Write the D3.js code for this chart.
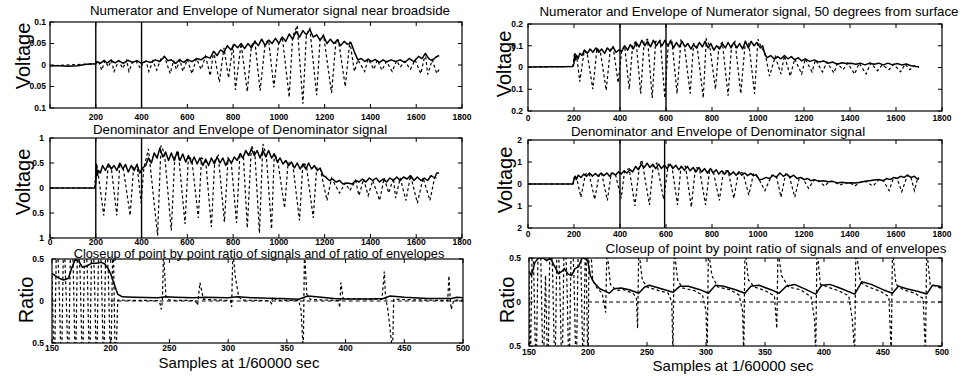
<!DOCTYPE html>
<html><head><meta charset="utf-8">
<script src="https://cdn.jsdelivr.net/npm/d3@7"></script>
<style>
body{margin:0;background:#fff}
svg{display:block}
text{font-family:"Liberation Sans",Arial,Helvetica,sans-serif;fill:#000}
</style>
</head><body>
<svg id="c" width="964" height="376"></svg>
<script>
// ---------------- DATA ----------------
const longXTicks = [0,200,400,600,800,1000,1200,1400,1600,1800];
const longXTickLabelsP1 = ["","200","400","600","800","1000","1200","1400","1600","1800"];
const longXTickLabels = ["0","200","400","600","800","1000","1200","1400","1600","1800"];
const shortXTicks = [150,200,250,300,350,400,450,500];
const shortXTickLabels = ["150","200","250","300","350","400","450","500"];

const p1YTicks = [0.1,0.05,0,-0.05,-0.1];
const p1YTickLabels = ["0.1","0.05","0","0.05","0.1"];
const p2YTicks = [0.2,0.1,0,-0.1,-0.2];
const p2YTickLabels = ["0.2","0.1","0","0.1","0.2"];
const p3YTicks = [1,0.5,0,-0.5,-1];
const p3YTickLabels = ["1","0.5","0","0.5","1"];
const p4YTicks = [2,1,0,-1,-2];
const p4YTickLabels = ["2","1","0","1","2"];
const ratioYTicks = [0.5,0,-0.5];
const ratioYTickLabels = ["0.5","0","0.5"];

const p1Markers = [200,400];
const p2Markers = [400,600];
const p3Markers = [200,400];
const p4Markers = [400,594];

// Numerator near broadside: envelope (solid) and signal (dashed)
const p1Env = [[0,-0.002],[40,-0.002],[80,-0.003],[120,-0.002],[160,0.002],[200,0.003],
[205,0.008],[220,0.004],[235,0.01],[250,0.005],[265,0.011],[285,0.005],[300,0.01],[320,0.004],[340,0.011],[360,0.006],[380,0.01],[400,0.004],[420,0.009],[440,0.006],[460,0.012],[480,0.008],[500,0.02],[515,0.01],[530,0.012],[550,0.004],[565,0.012],[585,0.006],[600,0.013],[620,0.008],[640,0.015],[660,0.012],[680,0.02],[700,0.016],[715,0.032],[730,0.022],[745,0.035],[760,0.03],[775,0.045],[790,0.035],[805,0.048],[820,0.04],[835,0.05],[850,0.038],[865,0.05],[880,0.04],[895,0.055],[910,0.045],[925,0.06],[940,0.045],[955,0.058],[970,0.05],[985,0.062],[1000,0.05],[1015,0.065],[1030,0.055],[1045,0.072],[1060,0.06],[1075,0.078],[1090,0.065],[1105,0.08],[1120,0.07],[1135,0.083],[1150,0.065],[1165,0.07],[1180,0.058],[1195,0.068],[1210,0.05],[1225,0.06],[1240,0.05],[1255,0.058],[1270,0.045],[1285,0.055],[1300,0.048],[1315,0.052],[1330,0.03],[1345,0.012],[1360,0.015],[1375,0.008],[1390,0.014],[1405,0.008],[1420,0.013],[1440,0.006],[1455,0.012],[1470,0.007],[1490,0.012],[1510,0.008],[1530,0.012],[1550,0.006],[1570,0.015],[1590,0.008],[1610,0.02],[1625,0.015],[1640,0.027],[1655,0.015],[1670,0.01],[1685,0.018],[1700,0.022]];
const p1Sig = [[0,-0.002],[200,0.003],[212,0.008],[226,-0.012],[240,0.01],[255,-0.004],[268,0.011],[280,-0.015],[300,0.01],[318,-0.008],[335,0.011],[345,-0.015],[360,0.006],[375,0.01],[395,-0.008],[405,0.004],[420,0.009],[432,-0.015],[450,0.01],[466,-0.012],[485,0.015],[500,0.02],[525,-0.02],[540,0.01],[552,-0.01],[568,0.012],[580,-0.015],[600,0.013],[620,-0.02],[640,0.015],[660,-0.01],[680,0.02],[700,-0.025],[715,0.032],[740,-0.04],[760,0.04],[780,-0.03],[800,0.048],[810,-0.058],[835,0.05],[862,-0.062],[880,0.045],[895,0.055],[918,-0.06],[940,0.05],[955,0.058],[978,-0.052],[1000,0.055],[1015,0.065],[1045,-0.075],[1060,0.065],[1080,0.092],[1105,-0.09],[1120,0.07],[1135,0.085],[1165,-0.07],[1180,0.06],[1195,0.07],[1230,-0.065],[1250,0.06],[1260,0.058],[1290,-0.05],[1310,0.055],[1330,-0.015],[1345,0.012],[1375,-0.015],[1390,0.014],[1415,-0.01],[1430,0.012],[1450,-0.012],[1470,0.008],[1495,-0.015],[1515,0.01],[1530,-0.005],[1550,0.008],[1575,-0.01],[1595,0.012],[1620,-0.02],[1640,0.027],[1650,-0.022],[1670,0.012],[1690,-0.02],[1700,-0.01]];

// Numerator 50 degrees from surface
const p2Env = [[0,0.002],[100,0.003],[150,0.004],[195,0.005],[200,0.02],[203,0.06],[207,0.035],[212,0.055],[218,0.04],[225,0.065],[235,0.055],[245,0.08],[258,0.065],[270,0.085],[282,0.07],[295,0.09],[308,0.07],[320,0.085],[333,0.065],[345,0.09],[358,0.075],[370,0.095],[383,0.07],[395,0.08],[408,0.075],[420,0.1],[433,0.08],[445,0.105],[458,0.085],[470,0.115],[483,0.095],[495,0.125],[508,0.1],[520,0.12],[533,0.095],[545,0.125],[558,0.1],[570,0.12],[583,0.1],[595,0.125],[608,0.1],[620,0.12],[633,0.09],[645,0.115],[658,0.095],[670,0.12],[683,0.095],[695,0.11],[708,0.085],[720,0.105],[733,0.09],[745,0.115],[758,0.095],[770,0.12],[783,0.09],[795,0.11],[808,0.08],[820,0.1],[833,0.085],[845,0.11],[858,0.09],[870,0.115],[883,0.09],[895,0.115],[908,0.09],[920,0.11],[933,0.085],[945,0.12],[958,0.09],[970,0.12],[983,0.1],[995,0.115],[1010,0.09],[1020,0.1],[1030,0.06],[1040,0.045],[1055,0.055],[1070,0.04],[1085,0.05],[1100,0.04],[1115,0.055],[1130,0.04],[1145,0.05],[1160,0.035],[1175,0.045],[1190,0.03],[1205,0.04],[1225,0.028],[1245,0.035],[1265,0.025],[1285,0.03],[1305,0.02],[1325,0.025],[1345,0.015],[1365,0.022],[1385,0.018],[1405,0.02],[1425,0.015],[1445,0.02],[1465,0.012],[1485,0.02],[1505,0.015],[1525,0.02],[1545,0.012],[1565,0.02],[1585,0.012],[1605,0.018],[1625,0.012],[1645,0.016],[1665,0.008],[1685,0.005],[1700,0.004]];
const p2Sig = [[0,0.002],[195,0.005],[203,0.07],[212,0.05],[225,-0.065],[245,0.08],[258,0.06],[282,-0.1],[300,0.09],[315,0.07],[340,-0.105],[358,0.085],[370,0.095],[392,-0.07],[408,0.08],[420,0.1],[440,-0.1],[455,0.105],[470,0.12],[490,-0.12],[505,0.12],[520,0.13],[540,-0.14],[555,0.12],[575,0.125],[595,-0.14],[610,0.11],[625,0.13],[648,-0.12],[665,0.125],[680,0.1],[705,-0.12],[720,0.11],[735,0.1],[762,-0.14],[775,0.13],[790,0.1],[815,-0.1],[830,0.1],[845,0.115],[870,-0.13],[885,0.1],[900,0.12],[925,-0.12],[945,0.12],[960,0.11],[985,-0.12],[1000,0.13],[1015,0.09],[1030,0.07],[1050,-0.04],[1075,0.05],[1100,-0.03],[1115,0.055],[1140,-0.04],[1160,0.04],[1190,-0.03],[1205,0.04],[1235,-0.02],[1250,0.035],[1280,-0.02],[1300,0.025],[1330,-0.025],[1345,0.018],[1370,-0.01],[1390,0.02],[1420,-0.03],[1440,0.02],[1470,-0.03],[1490,0.02],[1520,-0.015],[1540,0.012],[1570,-0.01],[1590,0.015],[1620,-0.02],[1640,0.015],[1660,-0.01],[1680,0.008],[1700,0.0]];

// Denominator near broadside
const p3Env = [[0,0],[195,0],[200,0.1],[203,0.45],[207,0.25],[212,0.35],[220,0.3],[230,0.45],[242,0.35],[255,0.48],[268,0.38],[280,0.45],[292,0.35],[305,0.5],[318,0.38],[330,0.47],[342,0.32],[355,0.45],[368,0.35],[380,0.47],[392,0.3],[405,0.4],[418,0.45],[430,0.6],[443,0.5],[455,0.7],[468,0.6],[480,0.8],[493,0.62],[505,0.72],[518,0.55],[530,0.7],[543,0.55],[555,0.72],[568,0.55],[580,0.68],[593,0.52],[605,0.65],[618,0.5],[630,0.62],[643,0.48],[655,0.6],[668,0.45],[680,0.58],[693,0.45],[705,0.6],[718,0.48],[730,0.62],[743,0.5],[755,0.6],[768,0.45],[780,0.58],[793,0.5],[805,0.62],[818,0.55],[830,0.68],[843,0.6],[855,0.75],[868,0.65],[880,0.78],[893,0.65],[905,0.75],[918,0.6],[930,0.75],[943,0.62],[955,0.75],[968,0.6],[980,0.68],[993,0.52],[1005,0.6],[1018,0.48],[1030,0.55],[1043,0.45],[1055,0.52],[1068,0.4],[1080,0.5],[1093,0.38],[1105,0.48],[1118,0.38],[1130,0.5],[1143,0.38],[1155,0.45],[1168,0.35],[1180,0.4],[1193,0.25],[1205,0.22],[1220,0.15],[1235,0.18],[1250,0.12],[1265,0.15],[1280,0.08],[1300,0.1],[1320,0.08],[1335,0.15],[1350,0.12],[1365,0.18],[1380,0.12],[1395,0.2],[1410,0.15],[1425,0.2],[1440,0.12],[1455,0.18],[1470,0.12],[1485,0.2],[1500,0.15],[1515,0.22],[1530,0.15],[1545,0.22],[1560,0.18],[1575,0.25],[1590,0.15],[1605,0.22],[1620,0.15],[1635,0.2],[1650,0.15],[1665,0.25],[1680,0.2],[1690,0.3],[1700,0.3]];
const p3Sig = [[0,0],[195,0],[203,0.5],[210,0.3],[235,-0.55],[255,0.48],[268,0.4],[292,-0.55],[305,0.5],[320,0.4],[350,-0.55],[365,0.4],[380,0.47],[398,-0.3],[410,0.4],[430,0.78],[470,-0.95],[485,0.85],[500,0.7],[530,-0.85],[545,0.6],[560,0.75],[590,-0.72],[605,0.65],[620,0.55],[648,-0.6],[662,0.6],[680,0.55],[705,-0.78],[720,0.55],[735,0.65],[762,-0.68],[778,0.6],[792,0.5],[815,-0.7],[830,0.7],[845,0.62],[862,-0.8],[880,0.85],[895,0.7],[915,-0.9],[930,0.88],[945,0.65],[968,-0.82],[980,0.7],[995,0.55],[1025,-0.4],[1040,0.5],[1060,0.5],[1090,-0.65],[1105,0.5],[1120,0.45],[1150,-0.6],[1165,0.4],[1180,0.4],[1210,-0.25],[1230,0.2],[1265,-0.1],[1290,0.1],[1310,-0.05],[1335,0.15],[1350,-0.15],[1370,0.18],[1390,-0.15],[1410,0.15],[1440,-0.25],[1460,0.2],[1480,-0.1],[1500,0.2],[1510,-0.2],[1530,0.2],[1555,-0.25],[1575,0.25],[1605,-0.3],[1630,0.2],[1660,-0.25],[1680,0.2],[1700,0.2]];

// Denominator 50 degrees from surface
const p4Env = [[0,0],[195,0],[200,0.2],[205,0.35],[210,0.2],[218,0.4],[230,0.3],[243,0.45],[255,0.35],[268,0.5],[280,0.35],[293,0.48],[305,0.35],[318,0.5],[330,0.38],[343,0.5],[355,0.35],[368,0.5],[380,0.4],[393,0.55],[405,0.45],[418,0.6],[430,0.5],[443,0.65],[455,0.55],[468,0.8],[480,0.65],[493,0.9],[505,0.75],[518,0.95],[530,0.75],[543,0.9],[555,0.7],[568,0.9],[580,0.7],[593,0.85],[605,0.7],[618,0.9],[630,0.7],[643,0.85],[655,0.65],[668,0.8],[680,0.62],[693,0.8],[705,0.6],[718,0.75],[730,0.55],[743,0.75],[755,0.55],[768,0.7],[780,0.5],[793,0.7],[805,0.5],[818,0.65],[830,0.45],[843,0.6],[855,0.45],[868,0.6],[880,0.42],[893,0.55],[905,0.4],[918,0.55],[930,0.4],[943,0.5],[955,0.38],[968,0.48],[980,0.38],[993,0.42],[1005,0.2],[1020,0.22],[1035,0.3],[1050,0.25],[1065,0.4],[1080,0.3],[1095,0.5],[1110,0.35],[1125,0.45],[1140,0.3],[1155,0.4],[1170,0.25],[1185,0.3],[1200,0.2],[1215,0.25],[1230,0.15],[1245,0.2],[1265,0.12],[1285,0.15],[1305,0.1],[1325,0.12],[1345,0.05],[1365,0.08],[1385,0.05],[1405,0.06],[1425,0.05],[1445,0.08],[1465,0.12],[1485,0.15],[1505,0.18],[1525,0.2],[1545,0.15],[1560,0.25],[1575,0.2],[1590,0.3],[1605,0.25],[1620,0.35],[1635,0.3],[1650,0.4],[1665,0.3],[1680,0.35],[1690,0.25],[1700,0.22]];
const p4Sig = [[0,0],[195,0],[203,0.4],[212,0.25],[230,-0.6],[250,0.45],[265,0.5],[290,-0.7],[310,0.45],[320,0.5],[345,-0.75],[362,0.5],[380,0.45],[405,-0.65],[420,0.6],[440,0.7],[465,-1.0],[485,0.85],[495,1.1],[528,-0.95],[545,0.9],[560,0.95],[590,-0.7],[610,0.9],[625,0.85],[650,-0.95],[665,0.8],[685,0.8],[710,-1.05],[728,0.75],[745,0.7],[772,-0.95],[790,0.7],[805,0.6],[832,-0.75],[850,0.6],[870,0.6],[895,-0.65],[915,0.55],[935,0.5],[960,-0.5],[980,0.45],[1000,0.3],[1030,-0.3],[1060,0.4],[1080,0.35],[1100,-0.6],[1120,0.45],[1135,0.4],[1160,-0.6],[1180,0.3],[1195,0.25],[1220,-0.2],[1245,0.2],[1265,0.15],[1290,-0.1],[1310,0.12],[1330,0.1],[1355,-0.05],[1380,0.05],[1400,0.06],[1420,-0.1],[1445,0.08],[1470,0.12],[1500,-0.1],[1525,0.2],[1545,0.15],[1570,-0.3],[1590,0.3],[1605,0.25],[1625,-0.35],[1650,0.4],[1665,0.3],[1680,-0.3],[1695,0.3],[1700,0.25]];

// Ratios (closeups)
const p5Env = [[150,0.33],[153,0.3],[156,0.27],[160,0.25],[164,0.27],[167,0.4],[170,0.5],[173,0.47],[176,0.4],[180,0.42],[184,0.45],[188,0.45],[192,0.46],[195,0.44],[198,0.38],[200,0.32],[203,0.2],[206,0.08],[210,0.05],[220,0.045],[240,0.04],[247,0.05],[255,0.045],[270,0.04],[280,0.045],[300,0.04],[308,0.05],[320,0.04],[340,0.03],[345,0.03],[360,0.02],[368,0.06],[375,0.05],[390,0.03],[400,0.025],[420,0.025],[432,0.03],[438,0.06],[450,0.045],[470,0.03],[490,0.03],[495,0.045],[500,0.04]];
const p5Sig = [[150,0.3],[152,-0.9],[154,0.9],[156,0.2],[158,-0.9],[160,0.9],[162,0.1],[164,-0.9],[166,0.9],[168,0.45],[170,-0.9],[172,0.9],[174,0.3],[176,-0.9],[178,0.9],[180,0.4],[182,-0.9],[184,0.9],[186,0.35],[188,-0.9],[190,0.9],[192,0.4],[194,-0.9],[196,0.9],[198,0.3],[200,-0.9],[202,0.9],[204,-0.9],[206,0.01],[240,0.005],[242,-0.03],[243,-0.1],[244,0.0],[245,0.6],[247,0.05],[250,0.01],[272,0.005],[274,-0.05],[276,0.22],[279,0.02],[302,0.005],[303,-0.07],[304,0.6],[306,0.3],[309,0.05],[312,0.01],[335,0.005],[337,-0.03],[338,0.05],[341,0.01],[360,0.005],[362,-0.1],[364,-0.6],[365,0.6],[367,0.08],[370,0.02],[394,0.005],[395,-0.08],[396,0.22],[398,0.03],[431,0.02],[433,0.35],[434,0.05],[436,-0.1],[438,-0.35],[440,-0.6],[441,0.02],[487,0.005],[488,0.3],[489,0.05],[490,-0.1],[492,0.01],[500,0.01]];
const p6Env = [[150,0.35],[152,0.3],[155,0.45],[158,0.5],[162,0.5],[165,0.47],[168,0.5],[172,0.4],[175,0.32],[178,0.35],[180,0.38],[183,0.32],[186,0.3],[189,0.38],[192,0.4],[195,0.5],[198,0.5],[200,0.45],[202,0.3],[205,0.22],[210,0.15],[215,0.12],[218,0.1],[222,0.15],[228,0.16],[235,0.14],[243,0.1],[248,0.17],[252,0.19],[260,0.16],[272,0.11],[278,0.18],[285,0.18],[295,0.14],[302,0.1],[308,0.19],[315,0.18],[325,0.14],[333,0.1],[338,0.18],[345,0.19],[355,0.14],[362,0.1],[368,0.18],[375,0.2],[385,0.14],[393,0.09],[398,0.19],[405,0.2],[415,0.15],[426,0.09],[432,0.23],[440,0.2],[450,0.14],[458,0.1],[463,0.18],[470,0.15],[480,0.12],[487,0.09],[492,0.19],[498,0.18],[500,0.16]];
const p6Sig = [[150,0.3],[151,-0.9],[153,0.9],[154,0.35],[156,-0.9],[158,0.9],[160,0.5],[162,-0.9],[164,0.3],[166,-0.9],[168,0.9],[170,0.35],[172,-0.9],[174,0.9],[176,0.25],[178,-0.9],[180,0.9],[182,0.3],[184,-0.9],[186,0.9],[188,0.35],[190,-0.9],[192,0.9],[194,0.45],[196,-0.9],[198,0.9],[200,-0.9],[201,0.9],[204,0.25],[208,0.15],[212,0.1],[215,-0.12],[216,0.6],[219,0.2],[224,0.13],[230,0.14],[238,0.1],[241,0.05],[242,-0.3],[243,0.6],[246,0.25],[250,0.17],[260,0.13],[268,0.1],[271,0.0],[272,-0.6],[273,0.6],[276,0.25],[280,0.16],[290,0.13],[297,0.08],[300,-0.1],[301,-0.6],[302,0.6],[305,0.3],[310,0.17],[320,0.14],[328,0.08],[331,-0.1],[332,-0.6],[333,0.6],[336,0.25],[341,0.17],[350,0.13],[358,0.07],[360,-0.3],[361,0.6],[364,0.3],[370,0.17],[380,0.14],[389,0.06],[392,-0.2],[393,-0.6],[394,0.6],[397,0.2],[403,0.17],[412,0.13],[421,0.07],[424,-0.2],[426,-0.6],[427,0.6],[431,0.22],[438,0.17],[448,0.12],[455,0.06],[457,-0.6],[458,0.6],[461,0.2],[467,0.14],[477,0.1],[484,0.04],[486,-0.6],[487,0.6],[490,0.2],[495,0.18],[500,0.15]];
const zeroLineRange = [200,500];

// ---------------- LAYOUT ----------------
const panels = [
 {box:[50,22,462,108], xd:[0,1800], yd:[-0.1,0.1], xt:longXTicks, xtl:longXTickLabelsP1, yt:p1YTicks, ytl:p1YTickLabels,
  env:p1Env, sig:p1Sig, marks:p1Markers, title:"Numerator and Envelope of Numerator signal near broadside", tx:270, ty:15,
  yl:"Voltage", ylx:23, yly:56, xlabY:120, yOff:4},
 {box:[528,24,942,111], xd:[0,1800], yd:[-0.2,0.2], xt:longXTicks, xtl:longXTickLabels, yt:p2YTicks, ytl:p2YTickLabels,
  env:p2Env, sig:p2Sig, marks:p2Markers, title:"Numerator and Envelope of Numerator signal, 50 degrees from surface", tx:749, ty:16,
  yl:"Voltage", ylx:504, yly:64, xlabY:121, yOff:5},
 {box:[50,138,462,238], xd:[0,1800], yd:[-1,1], xt:longXTicks, xtl:longXTickLabels, yt:p3YTicks, ytl:p3YTickLabels,
  env:p3Env, sig:p3Sig, marks:p3Markers, title:"Denominator and Envelope of Denominator signal", tx:240, ty:134,
  yl:"Voltage", ylx:23, yly:182, xlabY:244.5, yOff:6},
 {box:[528,140,942,228], xd:[0,1800], yd:[-2,2], xt:longXTicks, xtl:longXTickLabels, yt:p4YTicks, ytl:p4YTickLabels,
  env:p4Env, sig:p4Sig, marks:p4Markers, title:"Denominator and Envelope of Denominator signal", tx:718, ty:136,
  yl:"Voltage", ylx:505, yly:180, xlabY:237, yOff:6},
 {box:[52,259,463,343], xd:[150,500], yd:[-0.5,0.5], xt:shortXTicks, xtl:shortXTickLabels, yt:ratioYTicks, ytl:ratioYTickLabels,
  env:p5Env, sig:p5Sig, marks:[], zero:zeroLineRange, title:"Closeup of point by point ratio of signals and of ratio of envelopes", tx:259, ty:258, tfs:12.8,
  yl:"Ratio", ylx:26, yly:300, xlabY:351, xl:"Samples at 1/60000 sec", xlx:239, xly:367.5, yOff:8},
 {box:[529,258,942,346], xd:[150,500], yd:[-0.5,0.5], xt:shortXTicks, xtl:shortXTickLabels, yt:ratioYTicks, ytl:ratioYTickLabels,
  env:p6Env, sig:p6Sig, marks:[], zero:zeroLineRange, title:"Closeup of point by point ratio of signals and of envelopes", tx:776, ty:253,
  yl:"Ratio", ylx:507, yly:300, xlabY:354.5, xl:"Samples at 1/60000 sec", xlx:733, xly:371, yOff:8}
];

// ---------------- DRAW ----------------
const svg = d3.select("#c");
panels.forEach((p, i) => {
  const [x0,y0,x1,y1] = p.box;
  const x = d3.scaleLinear().domain(p.xd).range([x0,x1]);
  const y = d3.scaleLinear().domain(p.yd).range([y1,y0]);
  const g = svg.append("g");
  const cid = "clip"+i;
  svg.append("clipPath").attr("id",cid).append("rect").attr("x",x0).attr("y",y0).attr("width",x1-x0).attr("height",y1-y0);
  const plot = g.append("g").attr("clip-path",`url(#${cid})`);
  const line = d3.line().x(d=>x(d[0])).y(d=>y(d[1]));

  plot.selectAll("line.mk").data(p.marks).join("line")
    .attr("x1",d=>x(d)).attr("x2",d=>x(d)).attr("y1",y0).attr("y2",y1)
    .attr("stroke","#000").attr("stroke-width",1.4);
  if (p.zero) {
    plot.append("path").attr("d", line(p.zero.map(v=>[v,0])))
      .attr("fill","none").attr("stroke","#000").attr("stroke-width",1.1).attr("stroke-dasharray","4,3");
  }
  plot.append("path").attr("d", line(p.sig)).attr("fill","none").attr("stroke","#000")
    .attr("stroke-width",1.2).attr("stroke-dasharray","3,2.5");
  plot.append("path").attr("d", line(p.env)).attr("fill","none").attr("stroke","#000")
    .attr("stroke-width",1.5).attr("stroke-linejoin","round");

  g.append("rect").attr("x",x0).attr("y",y0).attr("width",x1-x0).attr("height",y1-y0)
    .attr("fill","none").attr("stroke","#000").attr("stroke-width",1.2);
  const tl = 4;
  p.xt.forEach(v => {
    g.append("line").attr("x1",x(v)).attr("x2",x(v)).attr("y1",y1).attr("y2",y1-tl).attr("stroke","#000");
    g.append("line").attr("x1",x(v)).attr("x2",x(v)).attr("y1",y0).attr("y2",y0+tl).attr("stroke","#000");
  });
  p.yt.forEach(v => {
    g.append("line").attr("x1",x0).attr("x2",x0+tl).attr("y1",y(v)).attr("y2",y(v)).attr("stroke","#000");
    g.append("line").attr("x1",x1).attr("x2",x1-tl).attr("y1",y(v)).attr("y2",y(v)).attr("stroke","#000");
  });
  g.selectAll("text.xt").data(p.xt).join("text")
    .attr("x",d=>x(d)).attr("y",p.xlabY).attr("text-anchor","middle")
    .attr("font-size",8.5).attr("font-weight","bold").text((d,k)=>p.xtl[k]);
  g.selectAll("text.yt").data(p.yt).join("text")
    .attr("x",x0-p.yOff).attr("y",d=>y(d)).attr("dy","0.35em").attr("text-anchor","end")
    .attr("font-size",8.5).attr("font-weight","bold").text((d,k)=>p.ytl[k]);
  g.append("text").attr("x",p.tx).attr("y",p.ty).attr("text-anchor","middle").attr("font-size",p.tfs||13.3).text(p.title);
  g.append("text").attr("transform",`translate(${p.ylx},${p.yly}) rotate(-90)`).attr("text-anchor","middle")
    .attr("dy","0.35em").attr("font-size", 20).text(p.yl);
  if (p.xl) g.append("text").attr("x",p.xlx).attr("y",p.xly).attr("text-anchor","middle").attr("font-size",15).text(p.xl);
});
</script>
</body></html>
